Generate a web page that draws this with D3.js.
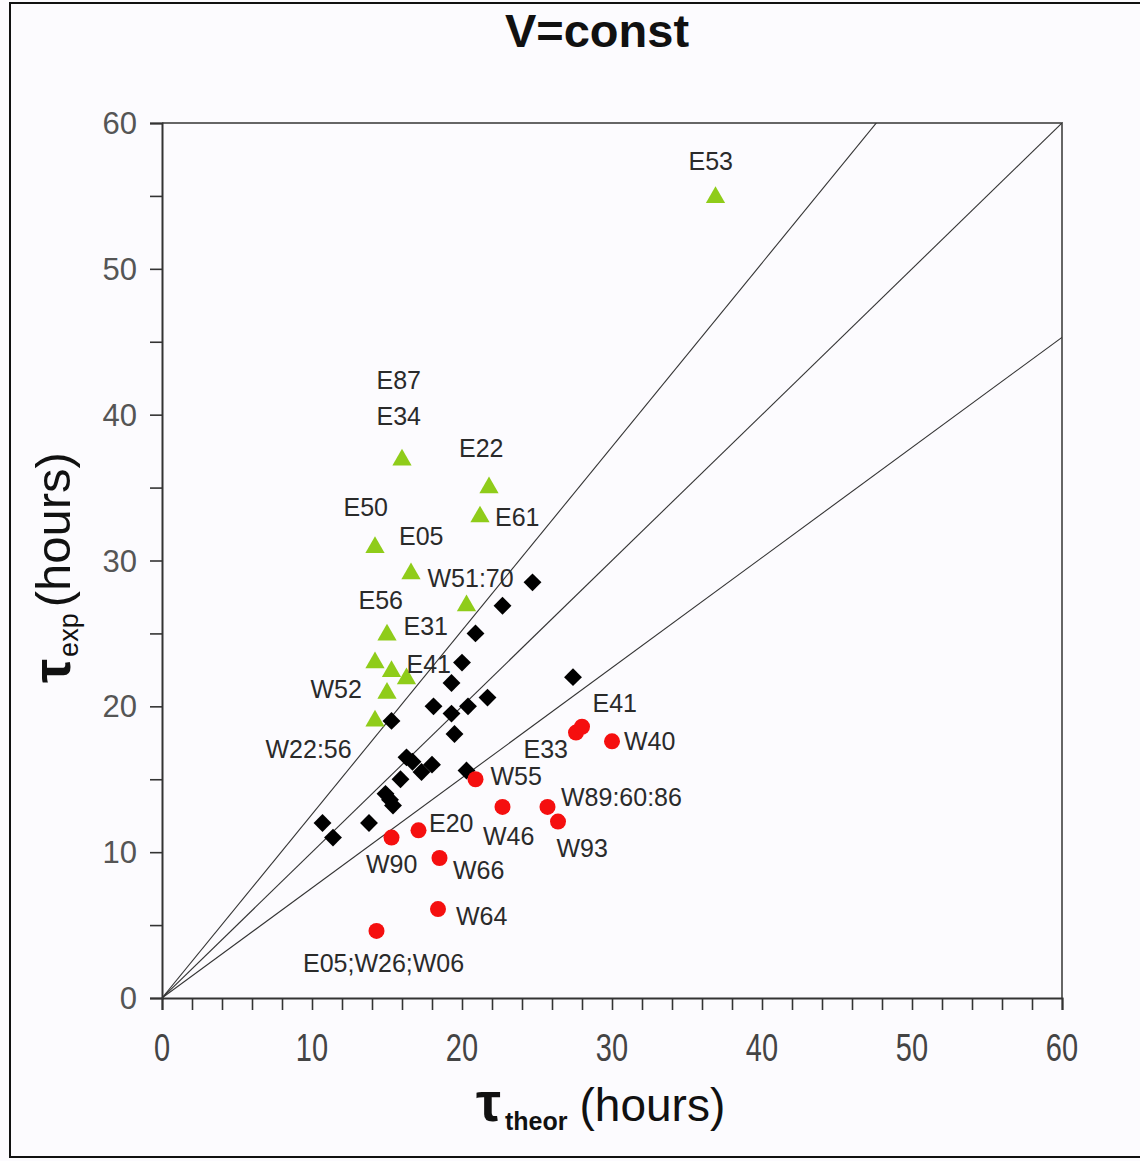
<!DOCTYPE html>
<html>
<head>
<meta charset="utf-8">
<script src="https://cdn.jsdelivr.net/npm/d3@7"></script>
<style>
  html, body { margin: 0; padding: 0; background: #fcfbfe; }
  svg { display: block; font-family: "Liberation Sans", Arial, sans-serif; }
</style>
</head>
<body>
<script>
// green triangles (E series, above the lines)
const greenX = [36.9, 16.0, 21.8, 21.2, 14.2, 16.6, 20.3, 15.0, 14.2, 15.3, 16.3, 15.0, 14.2];
const greenY = [54.9, 36.9, 35.0, 33.0, 30.9, 29.1, 26.9, 24.9, 23.0, 22.4, 21.9, 20.9, 19.0];

// black diamonds
const blackX = [24.7, 22.7, 20.9, 20.0, 19.3, 27.4, 21.7, 18.1, 19.3, 20.4, 15.3, 19.5,
                16.3, 16.7, 17.3, 18.0, 20.3, 15.9, 14.9, 15.2, 15.4, 10.7, 11.4, 13.8];
const blackY = [28.5, 26.9, 25.0, 23.0, 21.6, 22.0, 20.6, 20.0, 19.5, 20.0, 19.0, 18.1,
                16.5, 16.2, 15.5, 16.0, 15.6, 15.0, 14.0, 13.6, 13.2, 12.0, 11.0, 12.0];

// red circles (W series, below the lines)
const redX = [27.6, 28.0, 30.0, 20.9, 22.7, 25.7, 26.4, 17.1, 15.3, 18.5, 18.4, 14.3];
const redY = [18.2, 18.6, 17.6, 15.0, 13.1, 13.1, 12.1, 11.5, 11.0, 9.6, 6.1, 4.6];

// point labels, in data units (left edge, vertical middle)
const labelText = ["E53", "E87", "E34", "E22", "E61", "E50", "E05", "W51:70", "E56", "E31",
                   "E41", "W52", "W22:56", "E41", "E33", "W40", "W55", "W89:60:86", "E20",
                   "W46", "W93", "W90", "W66", "W64", "E05;W26;W06"];
const labelX = [35.1, 14.3, 14.3, 19.8, 22.2, 12.1, 15.8, 17.7, 13.1, 16.1,
                16.3, 9.9, 6.9, 28.7, 24.1, 30.8, 21.9, 26.6, 17.8,
                21.4, 26.3, 13.6, 19.4, 19.6, 9.4];
const labelY = [57.4, 42.4, 39.9, 37.7, 33.0, 33.7, 31.7, 28.8, 27.3, 25.5,
                22.9, 21.2, 17.1, 20.2, 17.1, 17.6, 15.2, 13.8, 12.0,
                11.1, 10.3, 9.2, 8.8, 5.6, 2.4];

// reference lines through the origin
const slopes = [1.26, 1.0, 0.755];

const xTicks = d3.range(0, 61, 2);
const yTicks = d3.range(0, 61, 5);
const tickLabels = [0, 10, 20, 30, 40, 50, 60];

const W = 1140, H = 1161;
const svg = d3.select("body").append("svg").attr("width", W).attr("height", H);

// outer frame
svg.append("rect").attr("x", 10).attr("y", 3).attr("width", W + 10).attr("height", 1154)
  .attr("fill", "#fcfbfe").attr("stroke", "#111").attr("stroke-width", 2);

const x = d3.scaleLinear().domain([0, 60]).range([162, 1062]);
const y = d3.scaleLinear().domain([0, 60]).range([998, 123]);

// plot box top / right
svg.append("path")
  .attr("d", `M${x(0)},${y(60)}H${x(60)}V${y(0)}`)
  .attr("fill", "none").attr("stroke", "#666").attr("stroke-width", 2);

// reference lines, clipped to the plot box
svg.append("clipPath").attr("id", "plot")
  .append("rect").attr("x", x(0)).attr("y", y(60))
  .attr("width", x(60) - x(0)).attr("height", y(0) - y(60));

svg.append("g").attr("clip-path", "url(#plot)")
  .selectAll("line").data(slopes).join("line")
  .attr("x1", x(0)).attr("y1", y(0))
  .attr("x2", x(60)).attr("y2", s => y(60 * s))
  .attr("stroke", "#333").attr("stroke-width", 1.1);

// axes
const xAxis = svg.append("g").attr("transform", `translate(0,${y(0)})`)
  .call(d3.axisBottom(x).tickValues(xTicks).tickSize(12).tickFormat(""));
const yAxis = svg.append("g").attr("transform", `translate(${x(0)},0)`)
  .call(d3.axisLeft(y).tickValues(yTicks).tickSize(12).tickFormat(""));
[xAxis, yAxis].forEach(g => {
  g.select(".domain").attr("stroke", "#333").attr("stroke-width", 2);
  g.selectAll(".tick line").attr("stroke", "#333").attr("stroke-width", 1.6);
});

// tick labels
svg.append("g").selectAll("text").data(tickLabels).join("text")
  .attr("transform", d => `translate(${x(d)},1061) scale(1,1.35)`)
  .attr("text-anchor", "middle")
  .attr("font-size", 29).attr("fill", "#444")
  .text(d => d);

svg.append("g").selectAll("text").data(tickLabels).join("text")
  .attr("x", 137).attr("y", d => y(d)).attr("dy", "0.36em")
  .attr("text-anchor", "end")
  .attr("font-size", 31).attr("fill", "#555")
  .text(d => d);

// markers
const tri = d3.symbol().type(d3.symbolTriangle).size(160);
const sq = d3.symbol().type(d3.symbolSquare).size(160);

svg.append("g").selectAll("path").data(blackX).join("path")
  .attr("d", sq)
  .attr("transform", (d, i) => `translate(${x(d)},${y(blackY[i])}) rotate(45)`)
  .attr("fill", "#000");

svg.append("g").selectAll("path").data(greenX).join("path")
  .attr("d", tri)
  .attr("transform", (d, i) => `translate(${x(d)},${y(greenY[i])})`)
  .attr("fill", "#8fcc1a");

svg.append("g").selectAll("circle").data(redX).join("circle")
  .attr("cx", d => x(d)).attr("cy", (d, i) => y(redY[i]))
  .attr("r", 8).attr("fill", "#f50f0f");

// point labels
svg.append("g").selectAll("text").data(labelText).join("text")
  .attr("x", (d, i) => x(labelX[i])).attr("y", (d, i) => y(labelY[i]))
  .attr("dy", "0.36em")
  .attr("font-size", 25).attr("fill", "#2a2a2a")
  .text(d => d);

// title
svg.append("text").attr("x", 597).attr("y", 47)
  .attr("text-anchor", "middle").attr("font-size", 47).attr("font-weight", "bold")
  .attr("fill", "#111").text("V=const");

// x axis title
const xt = svg.append("text").attr("x", 476).attr("y", 1121).attr("fill", "#111");
xt.append("tspan").attr("font-size", 56).attr("font-weight", "bold").text("τ");
xt.append("tspan").attr("font-size", 25).attr("font-weight", "bold").attr("dy", 9).attr("dx", 4).text("theor");
xt.append("tspan").attr("font-size", 46).attr("dy", -9).attr("dx", 12).text("(hours)");

// y axis title
const yt = svg.append("text").attr("transform", "translate(70,683) rotate(-90)").attr("fill", "#111");
yt.append("tspan").attr("font-size", 54).attr("font-weight", "bold").text("τ");
yt.append("tspan").attr("font-size", 27).attr("dy", 8).attr("dx", 2).text("exp");
yt.append("tspan").attr("font-size", 49).attr("dy", -8).attr("dx", 6).text("(hours)");
</script>
</body>
</html>
